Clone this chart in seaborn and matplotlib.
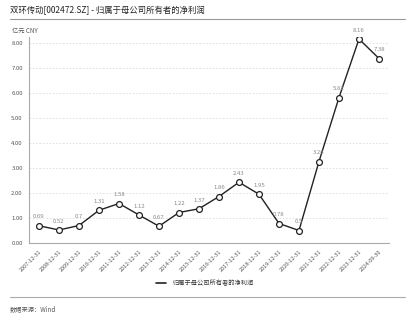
import matplotlib
matplotlib.use("Agg")
import matplotlib.pyplot as plt
import seaborn as sns
import pandas as pd

dates = ["2007-12-31", "2008-12-31", "2009-12-31", "2010-12-31", "2011-12-31",
         "2012-12-31", "2013-12-31", "2014-12-31", "2015-12-31", "2016-12-31",
         "2017-12-31", "2018-12-31", "2019-12-31", "2020-12-31", "2021-12-31",
         "2022-12-31", "2023-12-31", "2024-09-30"]
values = [0.69, 0.52, 0.70, 1.31, 1.58, 1.12, 0.67, 1.22, 1.37, 1.86,
          2.43, 1.95, 0.78, 0.50, 3.26, 5.82, 8.16, 7.38]
labels = ["0.69", "0.52", "0.7", "1.31", "1.58", "1.12", "0.67", "1.22", "1.37", "1.86",
          "2.43", "1.95", "0.78", "0.5", "3.26", "5.82", "8.16", "7.38"]
series_name = "归属于母公司所有者的净利润"
yticks = [0, 1, 2, 3, 4, 5, 6, 7, 8]

sns.set_style("white")
plt.rcParams['font.family'] = ['Noto Sans CJK SC', 'DejaVu Sans']

df = pd.DataFrame({"x": list(range(len(dates))), "v": values, "s": series_name})

fig = plt.figure(figsize=(4.15, 3.17), dpi=100)
ax = fig.add_axes([29/415, 1 - 243/317, (389 - 29)/415, (243 - 37)/317])

sns.lineplot(data=df, x="x", y="v", hue="s", palette=["#222222"], ax=ax,
             marker="o", markersize=4.2, markerfacecolor="white",
             markeredgecolor="#222222", markeredgewidth=0.9, linewidth=1.0,
             legend=False)

for i, (v, t) in enumerate(zip(values, labels)):
    ax.annotate(t, (i, v), xytext=(0, 4.5), textcoords="offset points",
                ha="center", va="bottom", fontsize=4.3, color="#888888")

ax.set_xlim(-0.5, len(dates) - 0.5)
ax.set_ylim(0, 8.24)
ax.set_yticks(yticks)
ax.set_yticklabels([f"{t:.2f}" for t in yticks], fontsize=4.3, color="#555555")
ax.set_xticks(range(len(dates)))
ax.set_xticklabels(dates, rotation=45, ha="right", rotation_mode="anchor",
                   fontsize=4, color="#555555")
ax.set_xlabel("")
ax.set_ylabel("")
ax.yaxis.grid(True, linestyle=(0, (2, 2)), color="#dddddd", linewidth=0.6)
ax.tick_params(axis="both", length=3, width=0.6, color="#999999", pad=1.5)
for side in ["top", "right"]:
    ax.spines[side].set_visible(False)
for side in ["left", "bottom"]:
    ax.spines[side].set_color("#aaaaaa")
    ax.spines[side].set_linewidth(0.8)

fig.text(10/415, 1 - 10/317, "双环传动[002472.SZ] - 归属于母公司所有者的净利润",
         fontsize=6, va="center", ha="left", color="#222222")
fig.add_artist(plt.Line2D([10/415, 405/415], [1 - 19/317, 1 - 19/317],
                          color="#999999", linewidth=0.8))
fig.text(12/415, 1 - 31/317, "亿元 CNY", fontsize=4.5, va="center", ha="left",
         color="#555555")

fig.add_artist(plt.Line2D([156/415, 166/415], [1 - 283/317, 1 - 283/317],
                          color="#222222", linewidth=1.2))
fig.text(172/415, 1 - 283/317, series_name, fontsize=4.5, va="center", ha="left",
         color="#333333")
fig.add_artist(plt.Line2D([10/415, 405/415], [1 - 297/317, 1 - 297/317],
                          color="#aaaaaa", linewidth=0.8))
fig.text(10/415, 1 - 309/317, "数据来源：Wind", fontsize=4.5, va="center", ha="left",
         color="#555555")

fig.savefig("out.png", dpi=100)
